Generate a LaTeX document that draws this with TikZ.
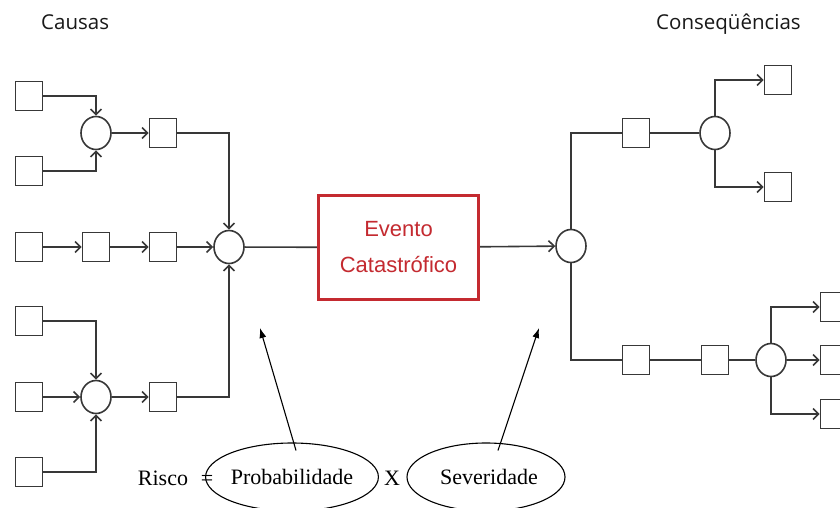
\documentclass[tikz,border=0pt]{standalone}
\usepackage{fontspec}
\setmainfont{Liberation Serif}
\newfontfamily\boxfont{Liberation Sans}
\newfontfamily\titlefont{Open Sans}
\usetikzlibrary{arrows.meta,shapes.geometric}
\definecolor{ln}{HTML}{383838}
\definecolor{evred}{HTML}{C42A30}
\begin{document}
\begin{tikzpicture}[x=1pt,y=-1pt,
  sq/.style={draw=ln,line width=1.6pt,minimum width=27pt,minimum height=29pt,inner sep=0pt},
  cir/.style={draw=ln,line width=1.6pt,ellipse,minimum width=30pt,minimum height=33pt,inner sep=0pt},
  conn/.style={draw=ln,line width=1.6pt},
  arr/.style={conn,-{Straight Barb[length=5.5pt,width=11pt,line width=1.6pt]}},
  evbox/.style={draw=evred,line width=3.2pt,minimum width=160pt,minimum height=104pt,align=center,text=evred,font=\boxfont\fontsize{22}{36}\selectfont},
  oval/.style={draw=black,line width=1.1pt,ellipse,inner sep=0pt,font=\fontsize{22}{26}\selectfont},
  lbl/.style={font=\fontsize{22}{26}\selectfont,inner sep=0pt,anchor=base},
  ttl/.style={font=\titlefont\fontsize{20.5}{24}\selectfont,inner sep=0pt,anchor=base west,text=black!90},
  riskarr/.style={draw=black,line width=1.1pt,-{Latex[length=10pt,width=7pt]}}]
\clip (0,0) rectangle (840,508);
\path[fill=white] (0,0) rectangle (840,508);
% titles
\node[ttl] (tc) at (41,30) {Causas};
\node[ttl] (tq) at (656,30) {Conseqüências};
% causes
\node[sq] (s1) at (29,96) {};
\node[sq] (s2) at (29,171) {};
\node[cir] (c1) at (96,133) {};
\node[sq] (s3) at (163,133) {};
\node[sq] (s4) at (29,247) {};
\node[sq] (s5) at (96,247) {};
\node[sq] (s6) at (163,247) {};
\node[cir] (cc) at (229,247) {};
\node[sq] (s7) at (29,321) {};
\node[sq] (s8) at (29,397) {};
\node[sq] (s9) at (29,472) {};
\node[cir] (c2) at (96,397) {};
\node[sq] (s10) at (163,397) {};
\draw[arr] (s1.east) -| (c1.north);
\draw[arr] (s2.east) -| (c1.south);
\draw[arr] (c1) -- (s3);
\draw[arr] (s3.east) -| (cc.north);
\draw[arr] (s4) -- (s5);
\draw[arr] (s5) -- (s6);
\draw[arr] (s6) -- (cc);
\draw[arr] (s7.east) -| (c2.north);
\draw[arr] (s8) -- (c2);
\draw[arr] (s9.east) -| (c2.south);
\draw[arr] (c2) -- (s10);
\draw[arr] (s10.east) -| (cc.south);
% event
\node[evbox] (ev) at (398.5,247.5) {Evento\\Catastrófico};
\draw[conn] (cc) -- (ev);
\node[cir] (rc) at (571,246) {};
\draw[arr] (ev) -- (rc);
% consequences
\node[sq] (r1) at (636,133) {};
\node[cir] (c3) at (715,133) {};
\node[sq] (r2) at (778,80) {};
\node[sq] (r3) at (778,187) {};
\draw[conn] (rc.north) |- (r1.west);
\draw[conn] (r1) -- (c3);
\draw[arr] (c3.north) |- (r2.west);
\draw[arr] (c3.south) |- (r3.west);
\node[sq] (r4) at (636,360) {};
\node[sq] (r5) at (715,360) {};
\node[cir] (c4) at (771,360) {};
\node[sq] (r6) at (834,307) {};
\node[sq] (r7) at (834,360) {};
\node[sq] (r8) at (834,414) {};
\draw[conn] (rc.south) |- (r4.west);
\draw[conn] (r4) -- (r5);
\draw[conn] (r5) -- (c4);
\draw[arr] (c4.north) |- (r6.west);
\draw[arr] (c4) -- (r7);
\draw[arr] (c4.south) |- (r8.west);
% risk
\node[lbl] (risco) at (163,485) {Risco};
\node[lbl] (eq) at (207,485) {=};
\node[oval,minimum width=152pt,minimum height=68pt] (prob) at (292,477) {Probabilidade};
\node[lbl] (times) at (392,485) {X};
\node[oval,minimum width=158pt,minimum height=68pt] (sev) at (486,477) {\hspace*{6pt}Severidade};
\coordinate (pa) at (260,328);
\coordinate (sa) at (539,328);
\draw[riskarr] ([xshift=4pt,yshift=-8pt]prob.north) -- (pa);
\draw[riskarr] ([xshift=12pt,yshift=-8pt]sev.north) -- (sa);
\end{tikzpicture}
\end{document}
